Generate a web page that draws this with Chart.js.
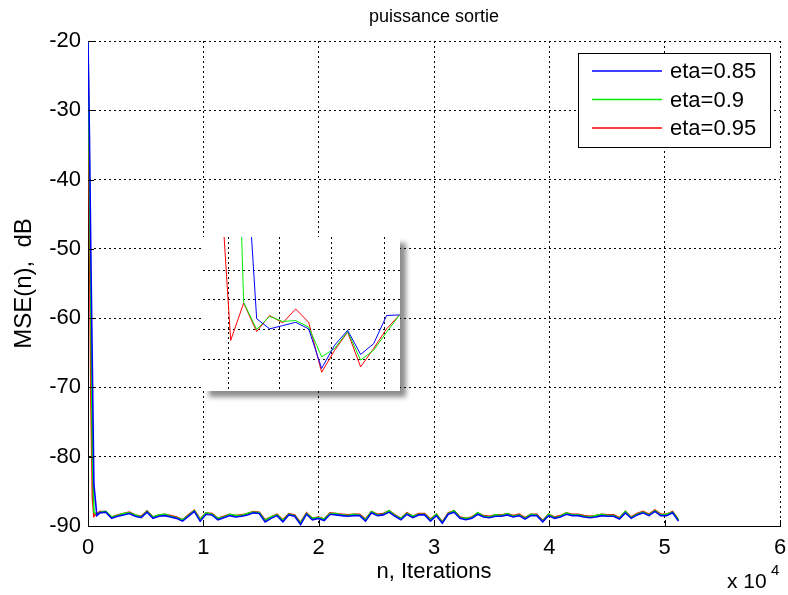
<!DOCTYPE html>
<html><head><meta charset="utf-8">
<script src="https://cdn.jsdelivr.net/npm/chart.js@4.4.0/dist/chart.umd.min.js"></script>
<style>
html,body{margin:0;padding:0;background:#fff;}
#wrap{position:relative;width:788px;height:595px;overflow:hidden;}
#main{position:absolute;left:0;top:0;}
#inset{position:absolute;left:203px;top:237px;background:#fff;box-shadow:6px 6px 5px rgba(0,0,0,0.45);}
</style></head><body>
<div id="wrap"><canvas id="main" width="788" height="595"></canvas><canvas id="inset" width="197" height="154"></canvas></div>
<script>
// ---------- DATA ----------
const chartTitle = 'puissance sortie';
const xAxisTitle = 'n, Iterations';
const yAxisTitle = 'MSE(n),  dB';
const seriesLabels = ['eta=0.85', 'eta=0.9', 'eta=0.95'];
const seriesColors = ['#0000ff', '#00ee00', '#ff0000'];
const xTickLabels = ['0', '1', '2', '3', '4', '5', '6'];
const yTickLabels = ['-90', '-80', '-70', '-60', '-50', '-40', '-30', '-20'];

// iterations of the first (transient) samples, then every 512 iterations
const transientIterations = [0, 128, 256, 384, 512, 768];
const steadyStep = 512;

const blueTransient  = [-20, -34, -52, -68, -84, -88.5];
const greenTransient = [-20, -40, -60, -80, -88.0, -88.4];
const redTransient   = [-20, -48, -72, -86, -88.6, -88.2];

const redSteady = [
 -87.9,-87.9,-88.7,-88.4,-88.2,-88.0,-88.4,-88.6,-87.8,-88.7,
 -88.4,-88.3,-88.5,-88.7,-89.1,-88.4,-87.7,-89.0,-88.1,-88.2,
 -88.9,-88.6,-88.3,-88.5,-88.4,-88.2,-87.9,-88.0,-89.1,-88.7,
 -88.3,-89.1,-88.2,-88.4,-89.5,-88.1,-88.9,-88.7,-89.0,-88.1,
 -88.2,-88.3,-88.4,-88.3,-88.3,-89.0,-87.9,-88.3,-88.2,-87.8,
 -88.4,-88.9,-88.1,-88.6,-88.2,-88.2,-89.0,-88.3,-89.4,-88.1,
 -87.8,-88.7,-88.9,-88.7,-88.1,-88.5,-88.6,-88.4,-88.4,-88.2,
 -88.5,-88.3,-88.8,-88.3,-88.3,-89.2,-88.3,-88.7,-88.5,-88.1,
 -88.3,-88.3,-88.5,-88.6,-88.5,-88.3,-88.4,-88.4,-88.8,-87.9,
 -88.7,-88.2,-87.9,-88.3,-87.7,-88.3,-88.3,-87.9,-89.1];
const greenSteady = [
 -88.0,-87.9,-88.7,-88.5,-88.2,-88.1,-88.4,-88.7,-87.9,-88.7,
 -88.4,-88.3,-88.6,-88.8,-89.1,-88.5,-87.8,-89.1,-88.1,-88.3,
 -88.9,-88.7,-88.3,-88.5,-88.5,-88.2,-88.0,-88.1,-89.2,-88.7,
 -88.4,-89.2,-88.3,-88.5,-89.6,-88.2,-88.9,-88.8,-89.0,-88.2,
 -88.2,-88.4,-88.5,-88.3,-88.4,-89.1,-87.9,-88.4,-88.3,-87.8,
 -88.5,-88.9,-88.2,-88.6,-88.3,-88.3,-89.1,-88.3,-89.5,-88.2,
 -87.8,-88.8,-88.9,-88.8,-88.1,-88.6,-88.7,-88.4,-88.5,-88.2,
 -88.6,-88.4,-88.9,-88.3,-88.4,-89.3,-88.3,-88.8,-88.6,-88.1,
 -88.4,-88.4,-88.6,-88.7,-88.5,-88.3,-88.5,-88.5,-88.9,-87.9,
 -88.8,-88.3,-88.0,-88.4,-87.8,-88.4,-88.3,-88.0,-89.1];
const blueSteady = [
 -88.1,-88.0,-88.9,-88.6,-88.4,-88.2,-88.6,-88.8,-88.0,-88.9,
 -88.6,-88.5,-88.7,-88.9,-89.3,-88.6,-87.9,-89.3,-88.3,-88.4,
 -89.1,-88.8,-88.5,-88.7,-88.6,-88.4,-88.1,-88.2,-89.4,-88.9,
 -88.5,-89.4,-88.4,-88.6,-89.8,-88.3,-89.1,-88.9,-89.2,-88.3,
 -88.4,-88.5,-88.6,-88.5,-88.5,-89.3,-88.1,-88.5,-88.4,-88.0,
 -88.6,-89.1,-88.3,-88.8,-88.4,-88.4,-89.3,-88.5,-89.6,-88.3,
 -88.0,-88.9,-89.1,-88.9,-88.3,-88.7,-88.8,-88.6,-88.6,-88.4,
 -88.7,-88.5,-89.0,-88.5,-88.5,-89.4,-88.5,-88.9,-88.7,-88.3,
 -88.5,-88.5,-88.7,-88.8,-88.7,-88.5,-88.6,-88.6,-89.0,-88.1,
 -88.9,-88.4,-88.1,-88.5,-87.9,-88.5,-88.5,-88.1,-89.3];

// inset (zoom of the transient), sample index k
const insetK = [-2,-1,0,1,2,3,4,5,6,7,8,9,10,11,12,13];
const insetBlue  = [-35,-50,-65,-81.7,-88.64,-88.98,-88.87,-88.76,-88.98,-90.31,-89.53,-89.03,-89.84,-89.48,-88.53,-88.51];
const insetGreen = [-45,-60,-74,-88.09,-89.0,-88.56,-88.73,-88.7,-88.92,-89.92,-89.64,-89.07,-90.03,-89.7,-89.09,-88.51];
const insetRed   = [-70,-82.5,-89.37,-88.11,-89.07,-88.53,-88.78,-88.31,-88.76,-90.44,-89.7,-89.09,-90.26,-89.64,-88.98,-88.51];
const insetGridX = [-0.13, 3.78, 7.76, 11.8];
const insetGridY = [-87, -88, -89, -90];

// ---------- BUILD ----------
const steadyIterations = redSteady.map((_, i) => 1024 + i * steadyStep);
const iterations = transientIterations.concat(steadyIterations);
const toPoints = (ys) => ys.map((v, i) => ({x: iterations[i], y: v}));
const seriesValues = [
  blueTransient.concat(blueSteady),
  greenTransient.concat(greenSteady),
  redTransient.concat(redSteady)
];

const FONT = '"Liberation Sans", Arial, Helvetica, sans-serif';

const decor = {
  id: 'decor',
  afterDraw(chart) {
    const {ctx, chartArea: a, scales: {x, y}} = chart;
    ctx.save();
    ctx.setLineDash([]);
    ctx.strokeStyle = '#000';
    ctx.lineWidth = 1;
    // inward ticks
    x.ticks.forEach(t => {
      const px = Math.round(x.getPixelForValue(t.value)) + 0.5;
      ctx.beginPath(); ctx.moveTo(px, a.bottom); ctx.lineTo(px, a.bottom - 6); ctx.stroke();
    });
    y.ticks.forEach(t => {
      const py = Math.round(y.getPixelForValue(t.value)) + 0.5;
      ctx.beginPath(); ctx.moveTo(a.left, py); ctx.lineTo(a.left + 6, py); ctx.stroke();
    });
    ctx.fillStyle = '#000';
    // title
    ctx.font = '18px ' + FONT;
    ctx.textAlign = 'center'; ctx.textBaseline = 'middle';
    ctx.fillText(chartTitle, (a.left + a.right) / 2, 17);
    // x title
    ctx.font = '22px ' + FONT;
    ctx.fillText(xAxisTitle, (a.left + a.right) / 2, 572);
    // y title
    ctx.save();
    ctx.font = '24px ' + FONT;
    ctx.translate(24, (a.top + a.bottom) / 2);
    ctx.rotate(-Math.PI / 2);
    ctx.fillText(yAxisTitle, 0, 0);
    ctx.restore();
    // exponent
    ctx.textAlign = 'left'; ctx.textBaseline = 'alphabetic';
    ctx.font = '21px ' + FONT;
    ctx.fillText('x 10', 727, 588);
    ctx.font = '15px ' + FONT;
    ctx.fillText('4', 771, 575);
    // legend
    const lx = a.right - 202, ly = a.top + 12, lw = 192, lh = 94;
    ctx.fillStyle = '#fff';
    ctx.fillRect(lx, ly, lw, lh);
    ctx.strokeStyle = '#000';
    ctx.strokeRect(lx + 0.5, ly + 0.5, lw, lh);
    ctx.font = '22px ' + FONT;
    ctx.textBaseline = 'middle';
    chart.data.datasets.forEach((ds, i) => {
      const yy = ly + 18 + i * 28.5;
      ctx.strokeStyle = ds.borderColor;
      ctx.lineWidth = 1.3;
      ctx.beginPath(); ctx.moveTo(lx + 14, yy); ctx.lineTo(lx + 84, yy); ctx.stroke();
      ctx.fillStyle = '#000';
      ctx.fillText(ds.label, lx + 92, yy + 1);
    });
    ctx.restore();
  }
};

new Chart(document.getElementById('main'), {
  type: 'line',
  data: {
    datasets: seriesLabels.map((lab, i) => ({
      label: lab,
      data: toPoints(seriesValues[i]),
      borderColor: seriesColors[i],
      backgroundColor: seriesColors[i],
      borderWidth: 1.6,
      pointRadius: 0,
      tension: 0,
      fill: false
    }))
  },
  options: {
    responsive: false,
    animation: false,
    devicePixelRatio: 1,
    layout: {padding: {left: 0, top: 41, right: 8, bottom: 0}},
    plugins: {legend: {display: false}, tooltip: {enabled: false}, title: {display: false}},
    scales: {
      x: {
        type: 'linear', min: 0, max: 60000,
        afterFit: s => { s.height = 69; s.paddingLeft = 0; s.paddingRight = 0; },
        ticks: {stepSize: 10000, padding: 9, color: '#000', font: {family: FONT, size: 22},
                callback: v => xTickLabels[Math.round(v / 10000)], maxRotation: 0, autoSkip: false},
        grid: {color: '#000', lineWidth: 1, drawTicks: false},
        border: {display: true, color: '#000', width: 1, dash: [2, 3]}
      },
      y: {
        type: 'linear', min: -90, max: -20,
        afterFit: s => { s.width = 88; s.paddingTop = 0; s.paddingBottom = 0; },
        ticks: {stepSize: 10, padding: 7, color: '#000', font: {family: FONT, size: 22},
                callback: v => yTickLabels[Math.round((v + 90) / 10)], autoSkip: false},
        grid: {color: '#000', lineWidth: 1, drawTicks: false},
        border: {display: true, color: '#000', width: 1, dash: [2, 3]}
      }
    }
  },
  plugins: [decor]
});

// inset chart
const insetSeries = [insetBlue, insetGreen, insetRed];
new Chart(document.getElementById('inset'), {
  type: 'line',
  data: {
    datasets: seriesLabels.map((lab, i) => ({
      label: lab,
      data: insetSeries[i].map((v, j) => ({x: insetK[j], y: v})),
      borderColor: seriesColors[i],
      borderWidth: 1,
      pointRadius: 0,
      tension: 0,
      fill: false
    }))
  },
  options: {
    responsive: false,
    animation: false,
    devicePixelRatio: 1,
    layout: {padding: 0},
    plugins: {legend: {display: false}, tooltip: {enabled: false}},
    scales: {
      x: {
        type: 'linear', min: -2.13, max: 13.03,
        afterBuildTicks: s => { s.ticks = insetGridX.map(v => ({value: v})); },
        afterFit: s => { s.height = 0; },
        ticks: {display: false},
        grid: {color: '#000', lineWidth: 1, drawTicks: false},
        border: {display: false, dash: [2, 3]}
      },
      y: {
        type: 'linear', min: -91.07, max: -85.89,
        afterBuildTicks: s => { s.ticks = insetGridY.map(v => ({value: v})); },
        afterFit: s => { s.width = 0; },
        ticks: {display: false},
        grid: {color: '#000', lineWidth: 1, drawTicks: false},
        border: {display: false, dash: [2, 3]}
      }
    }
  }
});
</script>
</body></html>
